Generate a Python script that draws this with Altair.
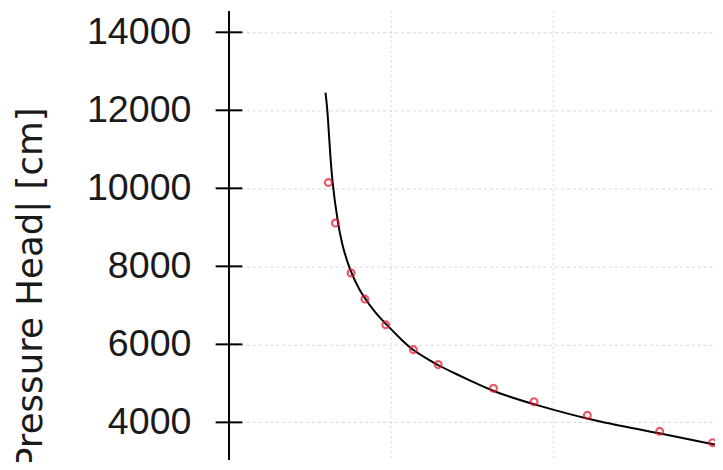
import altair as alt
import pandas as pd

# measured points (water content-like x, pressure head y)
obs_x = [0.0616, 0.0659, 0.0756, 0.0841, 0.0970, 0.1140, 0.1293, 0.1634, 0.1884, 0.2213, 0.2659, 0.2985]
obs_y = [10150, 9110, 7830, 7160, 6500, 5865, 5480, 4875, 4530, 4180, 3770, 3480]

# fitted curve
fit_x = [0.0598, 0.0610, 0.0622, 0.0638, 0.0674, 0.0701, 0.0741, 0.0787, 0.0823, 0.0896, 0.0982,
         0.1079, 0.1134, 0.1213, 0.1293, 0.1396, 0.1488, 0.1634, 0.1884, 0.2250, 0.2659, 0.3000]
fit_y = [12454, 12023, 11212, 10198, 9108, 8550, 7992, 7561, 7283, 6852, 6471,
         6066, 5863, 5660, 5458, 5255, 5077, 4786, 4456, 4038, 3721, 3430]

y_ticks = [4000, 6000, 8000, 10000, 12000, 14000]
x_grid = [0.1, 0.2]
y_title = "|Pressure Head| [cm]"

obs = pd.DataFrame({"x": obs_x, "y": obs_y})
fit = pd.DataFrame({"x": fit_x, "y": fit_y, "i": list(range(len(fit_x)))})
ticks = pd.DataFrame({"y": y_ticks})

xs = alt.Scale(domain=[0, 0.3], nice=False, zero=False)
ys = alt.Scale(domain=[3049, 14558], nice=False, zero=False)

x_axis = alt.Axis(values=x_grid, labels=False, ticks=False, domain=False, title=None,
                  grid=True, gridColor="#d4d4d4", gridDash=[2, 3], gridWidth=1)
y_axis = alt.Axis(values=y_ticks, format="d", ticks=False, tickSize=0, domain=True,
                  domainColor="#000000", domainWidth=2, labelFont="Liberation Sans",
                  labelFontSize=38, labelColor="#1a1a1a", labelPadding=38, title=None,
                  grid=True, gridColor="#d4d4d4", gridDash=[3, 3], gridWidth=1)

base_grid = alt.Chart(ticks).mark_rule(opacity=0).encode(
    x=alt.value(0),
    y=alt.Y("y:Q", scale=ys, axis=y_axis),
)

grid_x = alt.Chart(pd.DataFrame({"x": x_grid})).mark_rule(opacity=0).encode(
    x=alt.X("x:Q", scale=xs, axis=x_axis),
)

tick_marks = alt.Chart(ticks).mark_rule(color="#000000", strokeWidth=2).encode(
    x=alt.value(-13), x2=alt.value(14),
    y=alt.Y("y:Q", scale=ys),
)

line = alt.Chart(fit).mark_line(color="#000000", strokeWidth=2, interpolate="basis").encode(
    x=alt.X("x:Q", scale=xs),
    y=alt.Y("y:Q", scale=ys),
    order="i:Q",
)

points = alt.Chart(obs).mark_point(filled=False, color="#e3132b", size=48, strokeWidth=2.2).encode(
    x=alt.X("x:Q", scale=xs),
    y=alt.Y("y:Q", scale=ys),
)

title = alt.Chart(pd.DataFrame({"t": [y_title]})).mark_text(
    angle=270, align="right", baseline="alphabetic", font="DejaVu Sans",
    fontSize=36, color="#1a1a1a",
).encode(x=alt.value(-189), y=alt.value(98), text="t:N")

chart = alt.layer(grid_x, base_grid, line, points, tick_marks, title).properties(
    width=492, height=454,
    autosize=alt.AutoSizeParams(type="none"),
    padding={"left": 223, "top": 0, "right": 0, "bottom": 0},
    background="#ffffff",
).configure_view(strokeWidth=0)

chart.save("out.html", embed_options={"renderer": "svg", "actions": False})
